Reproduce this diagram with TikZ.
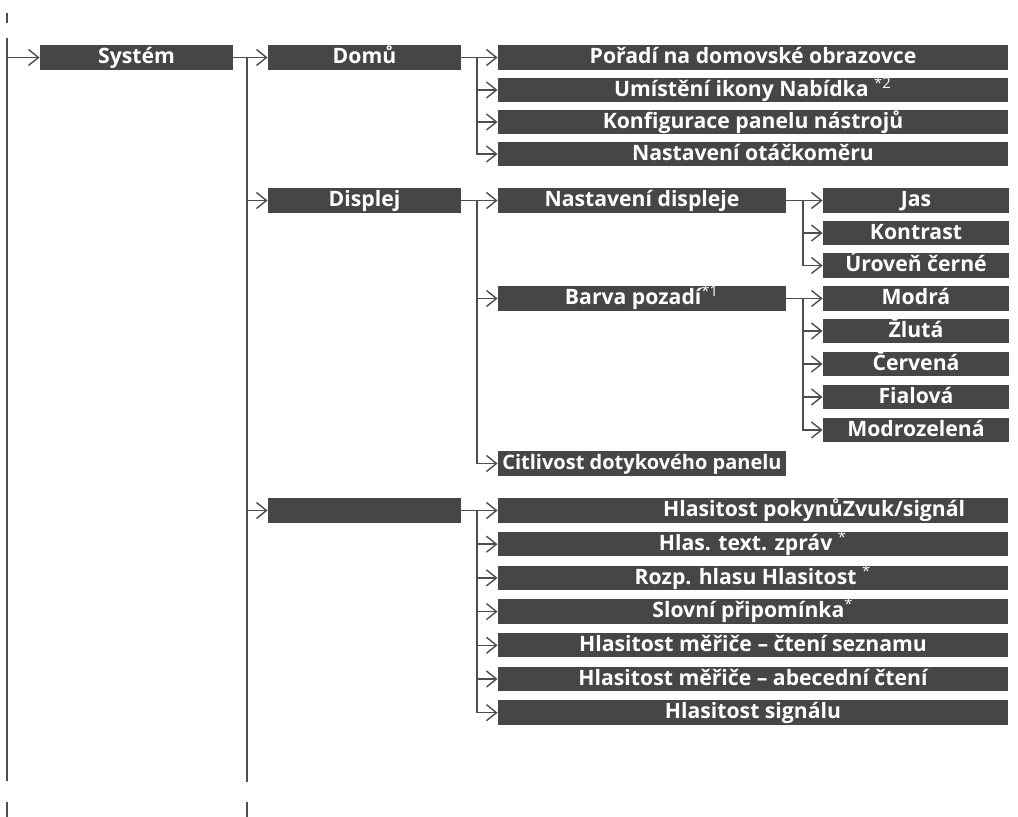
\documentclass[tikz,border=0pt]{standalone}
\usepackage{fontspec}
\setmainfont{Open Sans}
\usetikzlibrary{arrows.meta,positioning}
\definecolor{menubg}{HTML}{464646}
\definecolor{linegray}{HTML}{4E4E4E}
\newcommand{\fnm}[1]{\textsuperscript{\mdseries#1}}
\tikzset{
  menubox/.style={fill=menubg, text=white, inner sep=0pt, minimum height=12.2pt,
                  text height=8.2pt, text depth=2pt,
                  font=\fontsize{10.6}{12}\selectfont\bfseries},
  lvlab/.style={menubox, minimum width=96.5pt},
  lvlc/.style={menubox, minimum width=255pt},
  lvlcs/.style={menubox, minimum width=144pt},
  lvld/.style={menubox, minimum width=93pt},
  link/.style={draw=linegray, line width=0.7pt},
  arr/.style={link, -{Straight Barb[length=5pt, width=8pt, line width=0.7pt]}}}

\begin{document}
\begin{tikzpicture}[x=0.5pt, y=-0.5pt]
    \useasboundingbox (0,0) rectangle (1018,817);
    \node[lvlab] (sys) at (136.5,57.5) {Systém};
    \node[lvlab] (domu) at (364.5,57.5) {Domů};
    \node[lvlab] (disp) at (364.5,200.5) {Displej};
    \node[lvlab] (zvuk) at (364.5,510.5) {};
    \node[lvlc] (poradi) at (753,57.5) {Pořadí na domovské obrazovce};
    \node[lvlc] (ikona) at (753,90) {Umístění ikony Nabídka \fnm{*2}};
    \node[lvlc] (panel) at (753,122) {Konfigurace panelu nástrojů};
    \node[lvlc] (otacky) at (753,154) {Nastavení otáčkoměru};
    \node[lvlcs] (nastdisp) at (642,200.5) {Nastavení displeje};
    \node[lvlcs] (barva) at (642,298.5) {Barva pozadí\fnm{*1}};
    \node[lvlcs, font=\fontsize{10}{12}\selectfont\bfseries] (citl) at (642,463.5)
      {Citlivost dotykového panelu};
    \node[lvld] (jas) at (916,200.5) {Jas};
    \node[lvld] (kontrast) at (916,233) {Kontrast};
    \node[lvld] (uroven) at (916,265.5) {Úroveň černé};
    \node[lvld] (modra) at (916,298.5) {Modrá};
    \node[lvld] (zluta) at (916,331) {Žlutá};
    \node[lvld] (cervena) at (916,364) {Červená};
    \node[lvld] (fialova) at (916,397) {Fialová};
    \node[lvld] (modrozel) at (916,430) {Modrozelená};
    \node[lvlc] (pokyny) at (753,510.5) {Hlasitost pokynů\rlap{Zvuk/signál}};
    \node[lvlc] (zpravy) at (753,544.2) {Hlas. text. zpráv \fnm{*}};
    \node[lvlc] (rozp) at (753,577.9) {Rozp. hlasu Hlasitost \fnm{*}};
    \node[lvlc] (pripom) at (753,611.6) {Slovní připomínka\fnm{*}};
    \node[lvlc] (merseznam) at (753,645.3) {Hlasitost měřiče – čtení seznamu};
    \node[lvlc] (merabc) at (753,679) {Hlasitost měřiče – abecední čtení};
    \node[lvlc] (signal) at (753,712.7) {Hlasitost signálu};

    \coordinate (rootT) at (7,38);
    \coordinate (rootB) at (7,781);
    \coordinate (sysB) at (247,782);
    \coordinate (domuB) at (477,154);
    \coordinate (dispB) at (477,463.5);
    \coordinate (zvukB) at (477,712.7);
    \coordinate (nastB) at (803,265.5);
    \coordinate (barvaB) at (803,430);

    \draw[link] (7,13) -- (7,23);
    \draw[link] (7,802) -- (7,817);
    \draw[link] (247,802) -- (247,817);

    \draw[link] (rootT) -- (rootB);
    \draw[arr] (rootT |- sys) -- (sys.west);
    \draw[link] (sys.east) -| (sysB);
    \foreach \n in {domu,disp,zvuk}
      \draw[arr] (sysB |- \n) -- (\n.west);

    \draw[arr] (domu.east) -- (poradi.west);
    \draw[arr] (domu.east -| domuB) |- (otacky.west);
    \foreach \n in {ikona,panel}
      \draw[arr] (domuB |- \n) -- (\n.west);

    \draw[arr] (disp.east) -- (nastdisp.west);
    \draw[arr] (disp.east -| dispB) |- (citl.west);
    \draw[arr] (dispB |- barva) -- (barva.west);

    \draw[arr] (zvuk.east) -- (pokyny.west);
    \draw[arr] (zvuk.east -| zvukB) |- (signal.west);
    \foreach \n in {zpravy,rozp,pripom,merseznam,merabc}
      \draw[arr] (zvukB |- \n) -- (\n.west);

    \draw[arr] (nastdisp.east) -- (jas.west);
    \draw[arr] (nastdisp.east -| nastB) |- (uroven.west);
    \draw[arr] (nastB |- kontrast) -- (kontrast.west);

    \draw[arr] (barva.east) -- (modra.west);
    \draw[arr] (barva.east -| barvaB) |- (modrozel.west);
    \foreach \n in {zluta,cervena,fialova}
      \draw[arr] (barvaB |- \n) -- (\n.west);
  \end{tikzpicture}
\end{document}
